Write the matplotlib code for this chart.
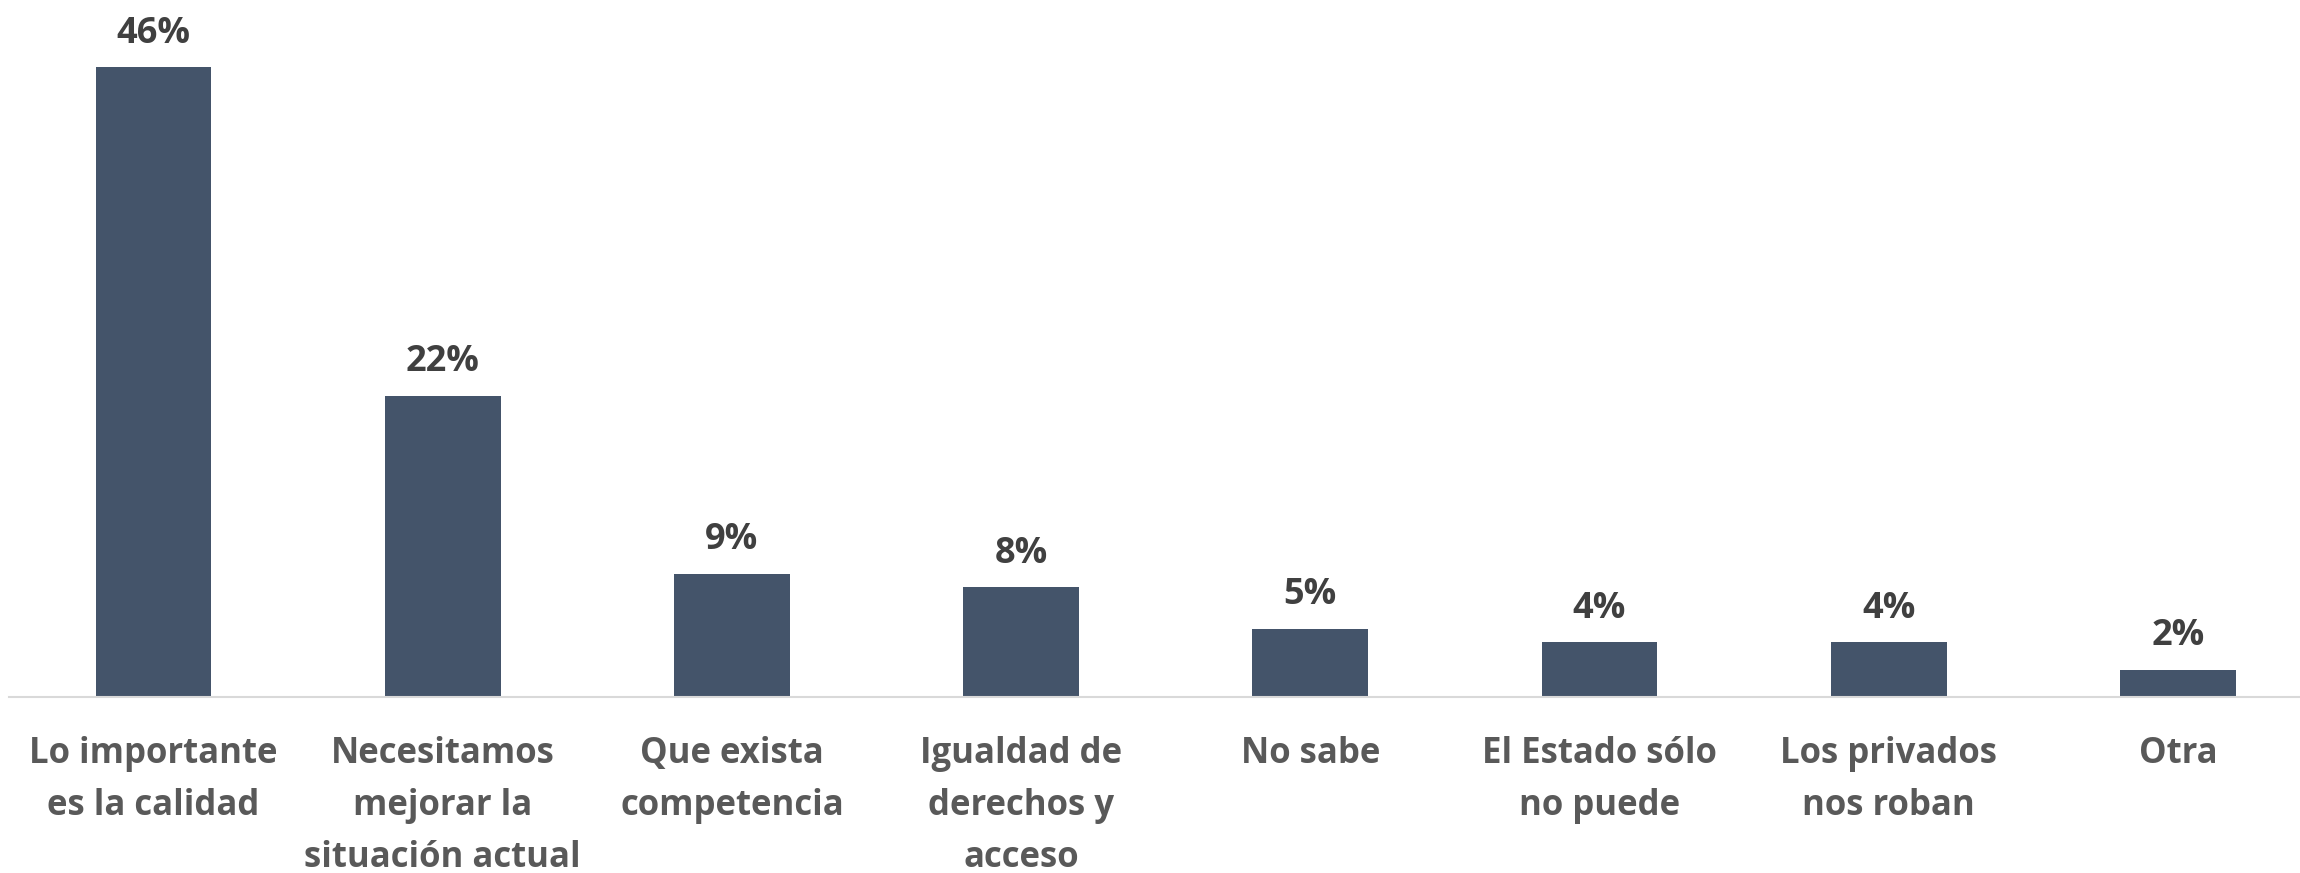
import matplotlib
matplotlib.use('Agg')
from matplotlib import pyplot as plt

categorias = [
    'Lo importante\nes la calidad',
    'Necesitamos\nmejorar la\nsituación actual',
    'Que exista\ncompetencia',
    'Igualdad de\nderechos y\nacceso',
    'No sabe',
    'El Estado sólo\nno puede',
    'Los privados\nnos roban',
    'Otra',
]
valores = [46, 22, 9, 8, 5, 4, 4, 2]

plt.rcParams['font.family'] = ['Open Sans', 'DejaVu Sans']

fig = plt.figure(figsize=(23, 8.73), dpi=100)
ax = fig.add_axes([8.9 / 2300, 176 / 873, 2313.6 / 2300, 630 / 873])

x = range(len(categorias))
bars = ax.bar(x, valores, width=0.4, color='#44546A')

for b, v in zip(bars, valores):
    ax.annotate(f'{v}%', (b.get_x() + b.get_width() / 2, v),
                xytext=(0, 24), textcoords='offset points',
                ha='center', va='center', fontsize=26, fontweight='bold',
                color='#404040', annotation_clip=False)

ax.set_xlim(-0.5, len(categorias) - 0.5)
ax.set_ylim(0, 46)
ax.set_xticks(list(x))
ax.set_xticklabels(categorias, fontsize=25, fontweight='bold', color='#595959',
                   linespacing=1.6)
ax.tick_params(axis='x', length=0, pad=28)
ax.set_yticks([])
for s in ['top', 'left', 'right']:
    ax.spines[s].set_visible(False)
ax.spines['bottom'].set_color('#D9D9D9')
ax.spines['bottom'].set_linewidth(1.5)

fig.savefig('out.png', dpi=100)
